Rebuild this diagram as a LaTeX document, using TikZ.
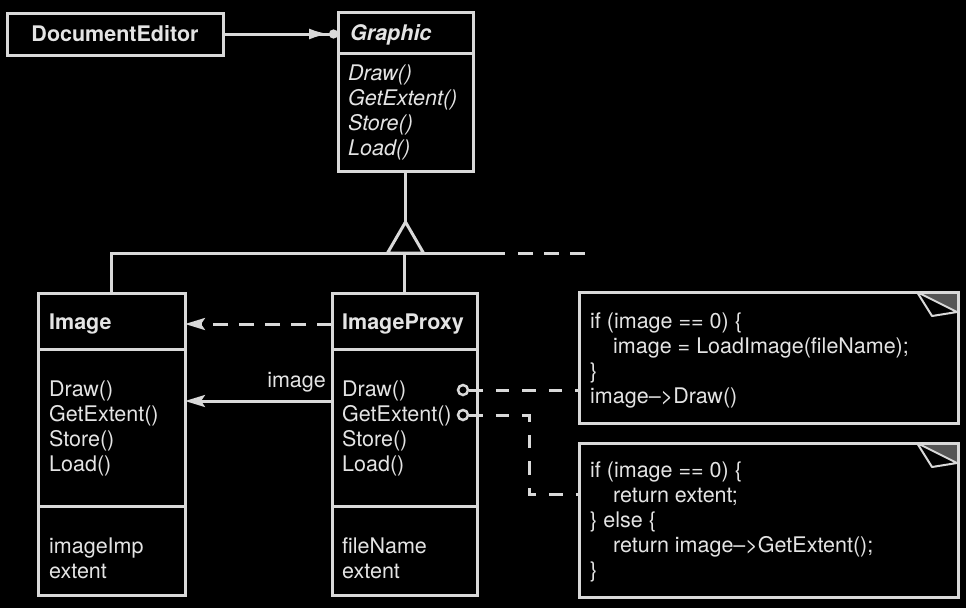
\documentclass[tikz,border=0pt]{standalone}
\usepackage{fontspec}
\setmainfont{TeX Gyre Heros}
\usetikzlibrary{arrows.meta,calc}
\definecolor{linec}{HTML}{D9D9D9}
\definecolor{txtc}{HTML}{E4E4E4}
\definecolor{foldc}{HTML}{555555}
\newcommand\dgfs{\fontsize{21.5}{25}\selectfont}
\begin{document}
\begin{tikzpicture}[x=1pt,y=-1pt,
  every node/.style={text=txtc, font=\dgfs, inner sep=0pt},
  box/.style={draw=linec, line width=3pt, anchor=north west, outer sep=0pt},
  conn/.style={draw=linec, line width=3pt},
  lbl/.style={anchor=base west, align=left},
  title/.style={anchor=base west, font=\dgfs\bfseries},
  dsh/.style={dash pattern=on 13.5pt off 13pt},
  tip/.style={-{Stealth[length=20pt,width=12pt,inset=4pt]}},
]
\fill[black] (0,0) rectangle (966,608);
\useasboundingbox (0,0) rectangle (966,608);

% class boxes
\node[box, anchor=center, minimum width=216pt, minimum height=42pt, font=\dgfs\bfseries] (de) at (115,34) {DocumentEditor};
\node[box, minimum width=135pt, minimum height=159pt] (graphic) at (338,12) {};
\draw[conn] (graphic.west |- 0,53) -- (graphic.east |- 0,53);
\node[box, minimum width=147pt, minimum height=302pt] (image) at (38,293) {};
\draw[conn] (image.west |- 0,349) -- (image.east |- 0,349);
\draw[conn] (image.west |- 0,506) -- (image.east |- 0,506);
\node[box, minimum width=145pt, minimum height=302pt] (proxy) at (332,293) {};
\draw[conn] (proxy.west |- 0,349) -- (proxy.east |- 0,349);
\draw[conn] (proxy.west |- 0,506) -- (proxy.east |- 0,506);

% notes
\node[box, minimum width=379pt, minimum height=131pt] (note1) at (579,292) {};
\node[box, minimum width=379pt, minimum height=154pt] (note2) at (579,443) {};
\foreach \n in {note1,note2}{
  \fill[foldc] ($(\n.north east)+(-41,0)$) -- (\n.north east) -- ($(\n.north east)+(0,20)$) -- cycle;
  \draw[draw=linec, line width=2pt, fill=black, line join=round] ($(\n.north east)+(-41,0)$) -- ($(\n.north east)+(-26,24)$) -- ($(\n.north east)+(-1,20)$) -- cycle;
  \draw[conn] ($(\n.north east)+(-50,0)$) -- (\n.north east) -- ($(\n.north east)+(0,30)$);
}

% texts (base anchor = baseline of the last line)
\node[title, font=\dgfs\bfseries\itshape] (gtitle) at (350,40) {Graphic};
\node[lbl, font=\dgfs\itshape] (gops) at (348,155) {Draw()\\GetExtent()\\Store()\\Load()};
\node[title] (imgt) at (49,329) {Image};
\node[lbl] (imgops) at (49,471) {Draw()\\GetExtent()\\Store()\\Load()};
\node[lbl] (imgf) at (49,578) {imageImp\\extent};
\node[title] (pxt) at (342,329) {ImageProxy};
\node[lbl] (pxops) at (342,471) {Draw()\\GetExtent()\\Store()\\Load()};
\node[lbl] (pxf) at (342,578) {fileName\\extent};
\node[lbl] (n1t) at (590,403) {if (image == 0) \{\\\hspace*{23pt}image = LoadImage(fileName);\\\}\\image\textendash{}>Draw()};
\node[lbl] (n2t) at (590,577) {if (image == 0) \{\\\hspace*{23pt}return extent;\\\}\ else \{\\\hspace*{23pt}return image\textendash{}>GetExtent();\\\}};

% DocumentEditor -> Graphic
\draw[conn, -{Latex[length=20pt,width=11pt] Circle[length=9pt]}] (de.east) -- (graphic.west |- de.east);

% inheritance
\coordinate (apex) at (graphic.south |- 0,222);
\coordinate (barR) at (505,253);
\draw[conn] (graphic.south) -- (apex);
\draw[conn] (image.north) |- (barR);
\draw[conn] (proxy.north) -- (proxy.north |- barR);
\draw[conn, dash pattern=on 14.5pt off 11.5pt] (518,253) -- (585,253);
\draw[conn, fill=black, line join=miter] (apex) -- ($(apex)+(-18,31)$) -- ($(apex)+(18,31)$) -- cycle;

% proxy -> image
\draw[conn, tip, dash pattern=on 15pt off 11pt] (proxy.west |- 0,324) -- (image.east |- 0,324);
\draw[conn, tip] (proxy.west |- 0,401) -- (image.east |- 0,401);
\node[anchor=base east] (imglbl) at (326,387) {image};

% note links
\node[circle, draw=linec, line width=2.5pt, fill=black, minimum size=10pt] (c1) at (463,390) {};
\node[circle, draw=linec, line width=2.5pt, fill=black, minimum size=10pt] (c2) at (463,415) {};
\coordinate (bend) at (529,494);
\draw[conn, dsh] (c1.east) -- (note1.west |- c1);
\draw[conn, dsh] (c2.east) -| (bend) -- (note2.west |- bend);
\end{tikzpicture}
\end{document}
